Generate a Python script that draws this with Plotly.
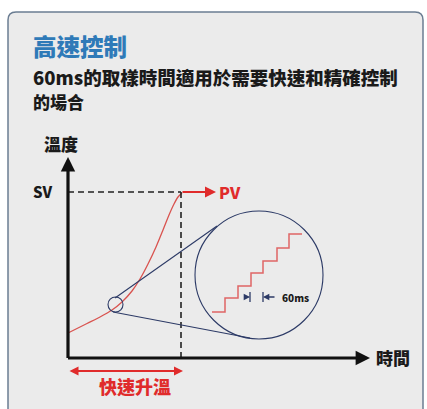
import plotly.graph_objects as go

W, H = 427, 409

# ---- diagram data (diagram units) ----
curve_time = [68, 87, 100, 112, 122, 132, 140, 148, 156, 163, 169, 174, 178, 182]
curve_temp = [333, 323.5, 317, 310, 302, 291, 279, 264, 247, 230, 215, 204, 197, 193]

step_time = [212, 225, 238, 251, 263, 277, 289, 302]
step_temp = [312, 298, 286, 273, 261, 248, 234, 234]

origin = (68, 358)
sv_level = 192
rise_end = 181

title_text = "高速控制"
subtitle_lines = ["60ms的取樣時間適用於需要快速和精確控制", "的場合"]
y_label = "溫度"
x_label = "時間"
sv_label = "SV"
pv_label = "PV"
rise_label = "快速升溫"
sample_label = "60ms"

RED = "#e02b2b"
CURVE_RED = "#d9534f"
NAVY = "#2c3a66"
BLUE = "#2f7ab8"
FONT = "Noto Sans CJK TC, Noto Sans CJK SC, sans-serif"

fig = go.Figure()

# red temperature curve
fig.add_trace(go.Scatter(x=curve_time, y=curve_temp, mode="lines",
                         line=dict(color=CURVE_RED, width=1.3, shape="spline", smoothing=0.8),
                         hoverinfo="skip", showlegend=False))
# staircase (magnified sampling)
fig.add_trace(go.Scatter(x=step_time, y=step_temp, mode="lines",
                         line=dict(color="#e06666", width=1.5, shape="hv"),
                         hoverinfo="skip", showlegend=False))

shapes = []
# panel
shapes.append(dict(type="path", xref="x", yref="y",
                   path="M 8 420 L 8 20 Q 8 12 16 12 L 415 12 Q 423 12 423 20 L 423 420 Z",
                   fillcolor="#ebebeb", line=dict(color="#6b7d92", width=1.5), layer="below"))
# dashed SV / end-of-rise lines
shapes.append(dict(type="line", x0=origin[0], y0=sv_level, x1=rise_end, y1=sv_level,
                   line=dict(color="#222", width=1.6, dash="6px,4px")))
shapes.append(dict(type="line", x0=rise_end, y0=sv_level, x1=rise_end, y1=origin[1],
                   line=dict(color="#222", width=1.6, dash="6px,4px")))
# magnifier circles
shapes.append(dict(type="circle", x0=108, y0=297, x1=123, y1=312,
                   line=dict(color=NAVY, width=1.1)))
shapes.append(dict(type="circle", x0=195, y0=211, x1=323, y1=339,
                   line=dict(color=NAVY, width=1.1)))
# tangent lines
shapes.append(dict(type="line", x0=115, y0=298, x1=217, y1=226,
                   line=dict(color=NAVY, width=1.1)))
shapes.append(dict(type="line", x0=113, y0=312, x1=250, y1=338,
                   line=dict(color=NAVY, width=1.1)))
# 60ms tick bars
shapes.append(dict(type="line", x0=250, y0=292, x1=250, y1=302,
                   line=dict(color=NAVY, width=1.3)))
shapes.append(dict(type="line", x0=263, y0=292, x1=263, y1=302,
                   line=dict(color=NAVY, width=1.3)))

ann = []
def arrow(x, y, ax, ay, color, width, size=1.0, head=2, side="end"):
    ann.append(dict(x=x, y=y, ax=ax, ay=ay, xref="x", yref="y", axref="x", ayref="y",
                    text="", showarrow=True, arrowhead=head, arrowsize=size,
                    arrowwidth=width, arrowcolor=color, arrowside=side,
                    startarrowhead=head, startarrowsize=size))

# axes
arrow(origin[0], 157, origin[0], origin[1] + 1.5, "#111", 3.2, 0.9)
arrow(370, origin[1], origin[0] - 1.5, origin[1], "#111", 3.2, 0.9)
# PV arrow
arrow(216, sv_level, rise_end, sv_level, RED, 2.2, 1.0)
# rise-time double arrow
arrow(183, 371, 68, 371, RED, 1.8, 1.0, side="end+start")
# 60ms arrows
arrow(250, 297, 243, 297, NAVY, 1.4, 0.9)
arrow(263, 297, 276, 297, NAVY, 1.4, 0.9)

def text(x, y, s, size, color="#1a1a1a", anchor="left"):
    ann.append(dict(x=x, y=y, xref="x", yref="y", text=s, showarrow=False,
                    xanchor=anchor, yanchor="middle",
                    font=dict(family=FONT, size=size, color=color, weight=900)))

text(31, 46, title_text, 23.5, BLUE)
text(31, 77, subtitle_lines[0], 18.5)
text(31, 101, subtitle_lines[1], 17)
text(42, 143, y_label, 17)
text(31, 191, sv_label, 15)
text(217, 192, pv_label, 16, RED)
text(374, 357, x_label, 17)
text(135, 386, rise_label, 18, RED, anchor="center")
text(280, 297, sample_label, 10)

fig.update_layout(
    width=W, height=H, margin=dict(l=0, r=0, t=0, b=0),
    paper_bgcolor="white", plot_bgcolor="white",
    xaxis=dict(range=[0, W], visible=False, fixedrange=True),
    yaxis=dict(range=[H, 0], visible=False, fixedrange=True),
    shapes=shapes, annotations=ann, showlegend=False,
)

fig.write_html("out.html", config={"displayModeBar": False},
               post_script="document.body.style.margin='0';document.body.style.overflow='hidden';")
